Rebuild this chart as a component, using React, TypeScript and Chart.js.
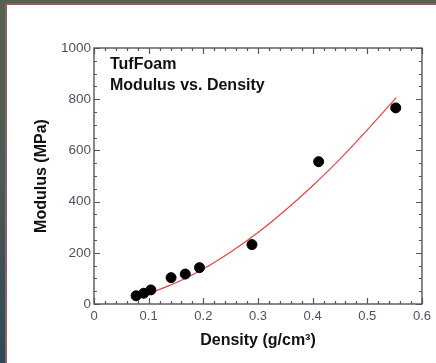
import React, { useEffect, useRef } from 'react';
import { Chart, registerables } from 'chart.js';

Chart.register(...registerables);

// Measured points
const densityValues = [0.077, 0.091, 0.104, 0.141, 0.167, 0.193, 0.289, 0.411, 0.552];
const modulusValues = [32, 42, 55, 103, 117, 142, 232, 556, 766];

// Red fitted curve
const fitDensity = [0.105, 0.15, 0.2, 0.25, 0.3, 0.35, 0.4, 0.45, 0.5, 0.553];
const fitModulus = [45, 83, 137, 203, 279, 366, 462, 566, 680, 806];

const xTickLabels = ['0', '0.1', '0.2', '0.3', '0.4', '0.5', '0.6'];
const yTickLabels = ['0', '200', '400', '600', '800', '1000'];
const annotationLines = ['TufFoam', 'Modulus vs. Density'];
const xTitle = 'Density (g/cm\u00B3)';
const yTitle = 'Modulus (MPa)';

const FONT = '"Liberation Sans", Arial, Helvetica, sans-serif';

const frameTicks = {
  id: 'frameTicks',
  afterDatasetsDraw(chart: any) {
    const { ctx, chartArea: a, scales } = chart;
    const xs = scales.x;
    const ys = scales.y;
    ctx.save();
    ctx.strokeStyle = '#555555';
    ctx.lineWidth = 1.4;
    ctx.strokeRect(a.left, a.top, a.right - a.left, a.bottom - a.top);
    ctx.lineWidth = 1.2;
    ctx.beginPath();
    for (let i = 0; i <= 30; i++) {
      const px = Math.round(xs.getPixelForValue(i * 0.02)) + 0.5;
      const len = i % 5 === 0 ? 6 : 3;
      ctx.moveTo(px, a.bottom);
      ctx.lineTo(px, a.bottom - len);
      ctx.moveTo(px, a.top);
      ctx.lineTo(px, a.top + len);
    }
    for (let i = 0; i <= 20; i++) {
      const py = Math.round(ys.getPixelForValue(i * 50)) + 0.5;
      const len = i % 4 === 0 ? 6 : 3;
      ctx.moveTo(a.left, py);
      ctx.lineTo(a.left + len, py);
      ctx.moveTo(a.right, py);
      ctx.lineTo(a.right - len, py);
    }
    ctx.stroke();

    ctx.fillStyle = '#111111';
    ctx.font = `bold 16px ${FONT}`;
    ctx.textAlign = 'left';
    ctx.textBaseline = 'middle';
    annotationLines.forEach((t, i) => {
      ctx.fillText(t, a.left + 16, a.top + 17 + i * 21);
    });
    ctx.restore();
  },
};

export default function App() {
  const canvasRef = useRef<HTMLCanvasElement | null>(null);

  useEffect(() => {
    document.body.style.margin = '0';
    const canvas = canvasRef.current;
    if (!canvas) return;
    const chart = new Chart(canvas, {
      type: 'scatter',
      data: {
        datasets: [
          {
            type: 'line',
            label: 'Fit',
            data: fitDensity.map((x, i) => ({ x, y: fitModulus[i] })),
            borderColor: '#e8433f',
            borderWidth: 1.2,
            pointRadius: 0,
            fill: false,
            cubicInterpolationMode: 'monotone',
            order: 2,
          } as any,
          {
            label: 'Measured',
            data: densityValues.map((x, i) => ({ x, y: modulusValues[i] })),
            backgroundColor: '#000000',
            borderColor: '#000000',
            pointRadius: 5,
            pointHoverRadius: 5,
            order: 1,
          },
        ],
      },
      options: {
        responsive: false,
        animation: false,
        events: [],
        layout: { padding: { left: 0, right: 13, top: 48, bottom: 0 } },
        plugins: {
          legend: { display: false },
          tooltip: { enabled: false },
        },
        scales: {
          x: {
            type: 'linear',
            min: 0,
            max: 0.6,
            afterFit: (s: any) => {
              s.height = 59;
            },
            grid: { display: false, drawTicks: false },
            border: { display: false },
            ticks: {
              stepSize: 0.1,
              padding: 5,
              color: '#4a5266',
              font: { family: FONT, size: 13 },
              callback: (_v: any, i: number) => xTickLabels[i],
            },
            title: {
              display: true,
              text: xTitle,
              color: '#111111',
              font: { family: FONT, size: 16, weight: 'bold' },
              padding: { top: 0, bottom: 13 },
            },
          },
          y: {
            type: 'linear',
            min: 0,
            max: 1000,
            afterFit: (s: any) => {
              s.width = 94;
            },
            grid: { display: false, drawTicks: false },
            border: { display: false },
            ticks: {
              stepSize: 200,
              padding: 3,
              color: '#4a5266',
              font: { family: FONT, size: 13.5 },
              callback: (_v: any, i: number) => yTickLabels[i],
            },
            title: {
              display: true,
              text: yTitle,
              color: '#111111',
              font: { family: FONT, size: 16, weight: 'bold' },
              padding: { top: 32, bottom: 0 },
            },
          },
        },
      },
      plugins: [frameTicks],
    });
    return () => chart.destroy();
  }, []);

  return (
    <div
      style={{
        position: 'fixed',
        left: 0,
        top: 0,
        width: 436,
        height: 363,
        overflow: 'hidden',
        background: 'linear-gradient(180deg, #56624f 0%, #4a5a55 50%, #2e4855 100%)',
      }}
    >
      <div
        style={{
          position: 'absolute',
          left: 5,
          top: 3,
          right: 0,
          bottom: 0,
          background: '#ffffff',
          borderLeft: '2px solid #8e5f66',
          borderTop: '2px solid #8e5f66',
        }}
      />
      <canvas
        ref={canvasRef}
        width={436}
        height={363}
        style={{ position: 'absolute', left: 0, top: 0, width: 436, height: 363, display: 'block' }}
      />
    </div>
  );
}
